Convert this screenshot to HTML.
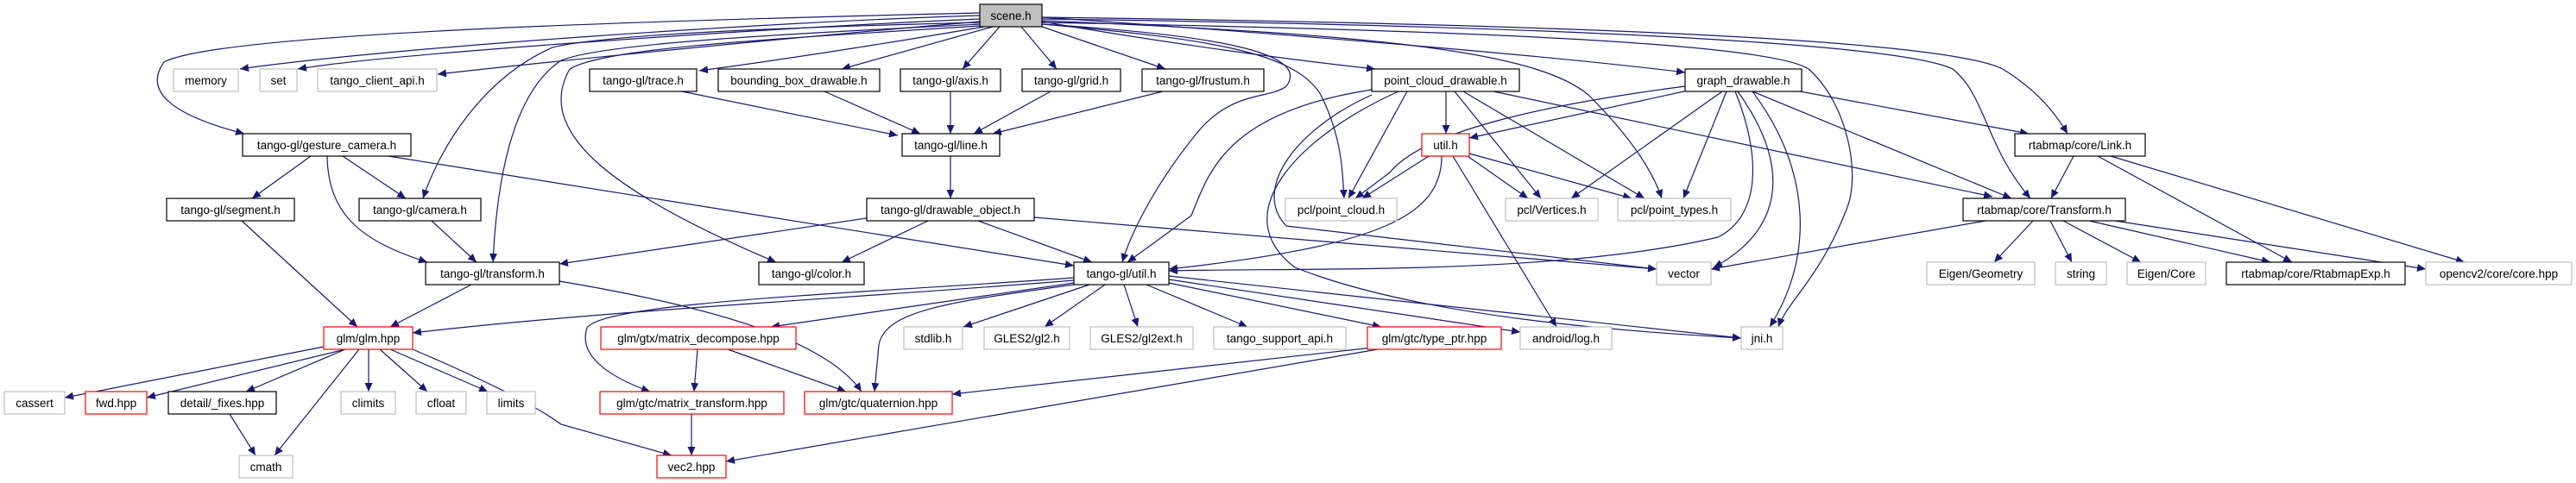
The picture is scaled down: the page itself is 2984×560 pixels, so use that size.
<!DOCTYPE html>
<html><head><meta charset="utf-8"><style>
html,body{margin:0;padding:0;background:#fff;}
svg{display:block;}
text{font-family:"Liberation Sans",sans-serif;font-size:13.5px;fill:#000;text-anchor:middle;}
.e{fill:none;stroke:#191970;stroke-width:1.2;marker-end:url(#a);}
.b{fill:#fff;stroke:#000;stroke-width:1.2;}
.g{fill:#fff;stroke:#bfbfbf;stroke-width:1.2;}
.r{fill:#fff;stroke:#ff0000;stroke-width:1.2;}
</style></head><body>
<svg width="2984" height="560" viewBox="0 0 2984 560" xmlns="http://www.w3.org/2000/svg">
<defs><marker id="a" markerUnits="userSpaceOnUse" markerWidth="11" markerHeight="9" refX="10" refY="4.5" orient="auto"><path d="M0,0 L10,4.5 L0,9 z" fill="#191970"/></marker></defs>
<g>
<!-- scene edges -->
<path class="e" d="M1135,18 C900,25 450,55 278,80"/>
<path class="e" d="M1135,22 C900,32 450,62 345,80"/>
<path class="e" d="M1135,25 C900,45 650,70 507,86"/>
<path class="e" d="M1135,15 C700,25 250,40 190,72 C170,100 185,130 283,155"/>
<path class="e" d="M1140,31 C1000,55 900,70 810,82"/>
<path class="e" d="M1150,31 L975,80"/>
<path class="e" d="M1158,31 L1115,80"/>
<path class="e" d="M1183,31 L1224,80"/>
<path class="e" d="M1207,31 L1350,80"/>
<path class="e" d="M1207,25 C1350,50 1500,70 1593,80"/>
<path class="e" d="M1207,20 C1500,40 1800,65 1952,84"/>
<path class="e" d="M1135,26 C900,32 700,40 640,55 C560,90 510,170 490,230"/>
<path class="e" d="M1135,28 C900,40 700,50 650,70 C590,110 575,220 571,304"/>
<path class="e" d="M1135,30 C900,45 700,55 660,80 C620,150 700,220 899,304"/>
<path class="e" d="M1207,28 C1400,40 1520,60 1490,100 C1470,115 1430,105 1390,150 C1340,210 1310,270 1300,304"/>
<path class="e" d="M1207,28 C1400,45 1500,60 1530,110 C1555,160 1555,200 1557,230"/>
<path class="e" d="M1207,24 C1600,40 1780,60 1840,110 C1890,160 1915,200 1925,230"/>
<path class="e" d="M1207,22 C1800,30 2200,50 2262,80 C2300,110 2300,170 2352,230"/>
<path class="e" d="M1207,20 C1800,28 2250,45 2320,80 C2360,105 2380,130 2395,155"/>
<path class="e" d="M1207,26 C1700,35 2050,50 2095,80 C2140,120 2155,200 2140,240 C2110,320 2070,350 2060,379"/>
<!-- line.h inputs -->
<path class="e" d="M790,106 L1040,157"/>
<path class="e" d="M955,106 L1066,155"/>
<path class="e" d="M1101,106 L1101,155"/>
<path class="e" d="M1217,106 L1128,155"/>
<path class="e" d="M1347,106 L1150,155"/>
<path class="e" d="M1101,181 L1101,230"/>
<!-- drawable_object -->
<path class="e" d="M1010,252 L648,306"/>
<path class="e" d="M1075,256 L975,304"/>
<path class="e" d="M1133,256 L1265,304"/>
<path class="e" d="M1198,252 L1919,312"/>
<!-- gesture camera -->
<path class="e" d="M360,181 L292,230"/>
<path class="e" d="M397,181 L470,230"/>
<path class="e" d="M379,181 C380,250 420,280 495,304"/>
<path class="e" d="M450,181 L1244,308"/>
<path class="e" d="M280,256 L414,379"/>
<path class="e" d="M500,256 L552,304"/>
<path class="e" d="M546,330 L452,379"/>
<path class="e" d="M648,326 C850,360 960,400 998,454"/>
<!-- tango-gl/util -->
<path class="e" d="M1244,325 C1000,345 700,360 478,386"/>
<path class="e" d="M1244,328 L893,379"/>
<path class="e" d="M1244,322 C1000,340 700,350 680,380 C670,410 700,435 753,454"/>
<path class="e" d="M1244,330 C1100,350 1025,360 1018,400 L1013,454"/>
<path class="e" d="M1262,330 L1116,379"/>
<path class="e" d="M1280,330 L1210,379"/>
<path class="e" d="M1302,330 L1318,379"/>
<path class="e" d="M1328,330 L1445,379"/>
<path class="e" d="M1354,328 L1600,379"/>
<path class="e" d="M1354,324 L1761,385"/>
<path class="e" d="M1354,320 L2017,392"/>
<!-- glm -->
<path class="e" d="M375,402 L75,461"/>
<path class="e" d="M400,405 L170,461"/>
<path class="e" d="M400,405 L285,454"/>
<path class="e" d="M416,405 L318,528"/>
<path class="e" d="M427,405 L427,454"/>
<path class="e" d="M440,405 L495,454"/>
<path class="e" d="M452,405 L565,454"/>
<path class="e" d="M478,405 C560,440 620,470 650,492 L778,528"/>
<path class="e" d="M266,480 L296,528"/>
<path class="e" d="M808,405 L804,454"/>
<path class="e" d="M843,405 L980,454"/>
<path class="e" d="M801,480 L801,528"/>
<path class="e" d="M1590,403 L1103,457"/>
<path class="e" d="M1596,405 L841,535"/>
<!-- point_cloud_drawable -->
<path class="e" d="M1675,106 L1675,155"/>
<path class="e" d="M1630,106 L1562,230"/>
<path class="e" d="M1952,100 C1800,120 1650,150 1610,200 L1570,230"/>
<path class="e" d="M1655,181 L1578,230"/>
<path class="e" d="M1685,106 L1785,230"/>
<path class="e" d="M1695,106 L1905,230"/>
<path class="e" d="M1730,106 L2308,228"/>
<path class="e" d="M1589,110 C1500,150 1450,220 1490,262 L1919,312"/>
<path class="e" d="M1620,106 C1500,160 1420,250 1500,310 C1650,370 1900,385 2017,392"/>
<path class="e" d="M1589,104 C1420,130 1400,200 1380,250 L1306,304"/>
<!-- util.h -->
<path class="e" d="M1700,181 L1770,230"/>
<path class="e" d="M1702,178 L1890,230"/>
<path class="e" d="M1670,181 C1670,250 1600,285 1354,312"/>
<path class="e" d="M1683,181 L1803,379"/>
<!-- graph_drawable -->
<path class="e" d="M1960,104 L1702,160"/>
<path class="e" d="M1995,106 L1820,230"/>
<path class="e" d="M2000,106 L1950,230"/>
<path class="e" d="M2010,106 C2040,180 2040,250 1990,275 C1800,320 1500,310 1354,314"/>
<path class="e" d="M2013,106 C2080,200 2060,270 1985,310"/>
<path class="e" d="M2030,106 C2100,200 2100,300 2050,379"/>
<path class="e" d="M2030,106 L2330,230"/>
<path class="e" d="M2085,106 L2350,155"/>
<!-- Link / Transform -->
<path class="e" d="M2402,181 L2376,230"/>
<path class="e" d="M2430,181 L2655,304"/>
<path class="e" d="M2445,181 L2855,304"/>
<path class="e" d="M2355,256 L2310,304"/>
<path class="e" d="M2375,256 L2400,304"/>
<path class="e" d="M2390,256 L2480,304"/>
<path class="e" d="M2420,256 L2630,304"/>
<path class="e" d="M2450,256 L2810,312"/>
<path class="e" d="M2300,256 L1982,312"/>
</g>
<g>
<rect x="1135" y="5" width="72" height="26" fill="#bfbfbf" stroke="#000" stroke-width="1.2"/><text x="1171" y="23">scene.h</text>
<rect class="g" x="201" y="80" width="75" height="26"/><text x="238.5" y="98">memory</text>
<rect class="g" x="301" y="80" width="43" height="26"/><text x="322.5" y="98">set</text>
<rect class="g" x="368" y="80" width="138" height="26"/><text x="437" y="98">tango_client_api.h</text>
<rect class="b" x="683" y="80" width="124" height="26"/><text x="745" y="98">tango-gl/trace.h</text>
<rect class="b" x="832" y="80" width="187" height="26"/><text x="925.5" y="98">bounding_box_drawable.h</text>
<rect class="b" x="1043" y="80" width="116" height="26"/><text x="1101" y="98">tango-gl/axis.h</text>
<rect class="b" x="1184" y="80" width="114" height="26"/><text x="1241" y="98">tango-gl/grid.h</text>
<rect class="b" x="1323" y="80" width="141" height="26"/><text x="1393.5" y="98">tango-gl/frustum.h</text>
<rect class="b" x="1589" y="80" width="171" height="26"/><text x="1674.5" y="98">point_cloud_drawable.h</text>
<rect class="b" x="1952" y="80" width="135" height="26"/><text x="2019.5" y="98">graph_drawable.h</text>
<rect class="b" x="281" y="155" width="195" height="26"/><text x="378.5" y="173">tango-gl/gesture_camera.h</text>
<rect class="b" x="1045" y="155" width="113" height="26"/><text x="1101.5" y="173">tango-gl/line.h</text>
<rect class="r" x="1647" y="155" width="55" height="26"/><text x="1674.5" y="173">util.h</text>
<rect class="b" x="2334" y="155" width="151" height="26"/><text x="2409.5" y="173">rtabmap/core/Link.h</text>
<rect class="b" x="193" y="230" width="148" height="26"/><text x="267" y="248">tango-gl/segment.h</text>
<rect class="b" x="416" y="230" width="141" height="26"/><text x="486.5" y="248">tango-gl/camera.h</text>
<rect class="b" x="1004" y="230" width="194" height="26"/><text x="1101" y="248">tango-gl/drawable_object.h</text>
<rect class="g" x="1489" y="230" width="129" height="26"/><text x="1553.5" y="248">pcl/point_cloud.h</text>
<rect class="g" x="1744" y="230" width="107" height="26"/><text x="1797.5" y="248">pcl/Vertices.h</text>
<rect class="g" x="1874" y="230" width="131" height="26"/><text x="1939.5" y="248">pcl/point_types.h</text>
<rect class="b" x="2274" y="230" width="188" height="26"/><text x="2368" y="248">rtabmap/core/Transform.h</text>
<rect class="b" x="493" y="304" width="155" height="26"/><text x="570.5" y="322">tango-gl/transform.h</text>
<rect class="b" x="879" y="304" width="122" height="26"/><text x="940" y="322">tango-gl/color.h</text>
<rect class="b" x="1244" y="304" width="110" height="26"/><text x="1299" y="322">tango-gl/util.h</text>
<rect class="g" x="1919" y="304" width="63" height="26"/><text x="1950.5" y="322">vector</text>
<rect class="g" x="2232" y="304" width="125" height="26"/><text x="2294.5" y="322">Eigen/Geometry</text>
<rect class="g" x="2381" y="304" width="59" height="26"/><text x="2410.5" y="322">string</text>
<rect class="g" x="2464" y="304" width="91" height="26"/><text x="2509.5" y="322">Eigen/Core</text>
<rect class="b" x="2579" y="304" width="207" height="26"/><text x="2682.5" y="322">rtabmap/core/RtabmapExp.h</text>
<rect class="g" x="2810" y="304" width="169" height="26"/><text x="2894.5" y="322">opencv2/core/core.hpp</text>
<rect class="r" x="375" y="379" width="103" height="26"/><text x="426.5" y="397">glm/glm.hpp</text>
<rect class="r" x="696" y="379" width="226" height="26"/><text x="809" y="397">glm/gtx/matrix_decompose.hpp</text>
<rect class="g" x="1047" y="379" width="68" height="26"/><text x="1081" y="397">stdlib.h</text>
<rect class="g" x="1140" y="379" width="99" height="26"/><text x="1189.5" y="397">GLES2/gl2.h</text>
<rect class="g" x="1263" y="379" width="119" height="26"/><text x="1322.5" y="397">GLES2/gl2ext.h</text>
<rect class="g" x="1406" y="379" width="153" height="26"/><text x="1482.5" y="397">tango_support_api.h</text>
<rect class="r" x="1584" y="379" width="155" height="26"/><text x="1661.5" y="397">glm/gtc/type_ptr.hpp</text>
<rect class="g" x="1761" y="379" width="106" height="26"/><text x="1814" y="397">android/log.h</text>
<rect class="g" x="2017" y="379" width="48" height="26"/><text x="2041" y="397">jni.h</text>
<rect class="g" x="5" y="454" width="70" height="26"/><text x="40" y="472">cassert</text>
<rect class="r" x="99" y="454" width="71" height="26"/><text x="134.5" y="472">fwd.hpp</text>
<rect class="b" x="195" y="454" width="125" height="26"/><text x="257.5" y="472">detail/_fixes.hpp</text>
<rect class="g" x="395" y="454" width="63" height="26"/><text x="426.5" y="472">climits</text>
<rect class="g" x="482" y="454" width="58" height="26"/><text x="511" y="472">cfloat</text>
<rect class="g" x="564" y="454" width="56" height="26"/><text x="592" y="472">limits</text>
<rect class="r" x="695" y="454" width="213" height="26"/><text x="801.5" y="472">glm/gtc/matrix_transform.hpp</text>
<rect class="r" x="932" y="454" width="171" height="26"/><text x="1017.5" y="472">glm/gtc/quaternion.hpp</text>
<rect class="g" x="277" y="528" width="62" height="26"/><text x="308" y="546">cmath</text>
<rect class="r" x="761" y="528" width="80" height="26"/><text x="801" y="546">vec2.hpp</text>
</g>
</svg>
</body></html>
